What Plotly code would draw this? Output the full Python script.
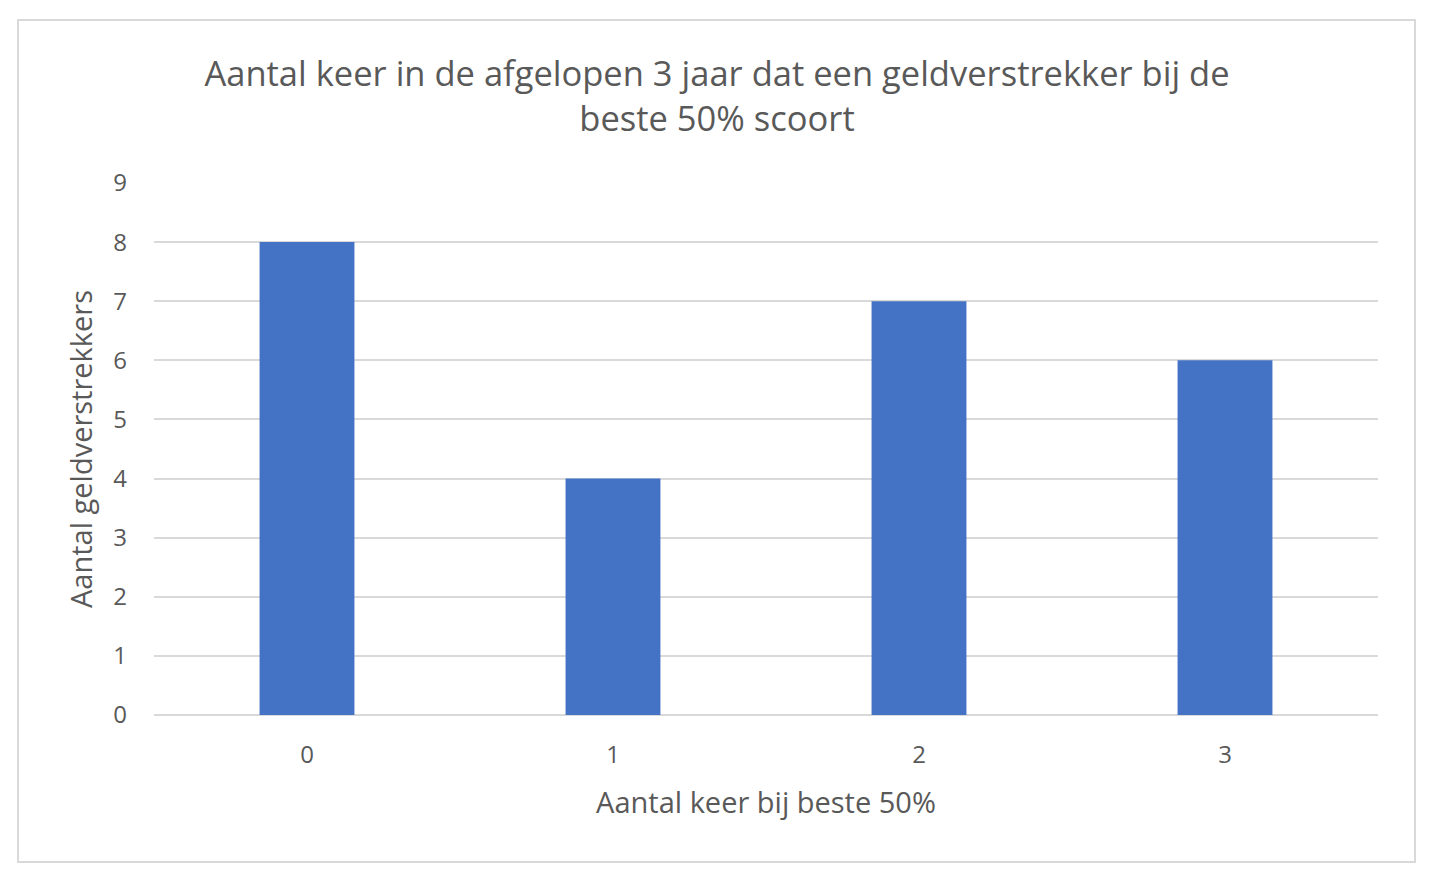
import plotly.graph_objects as go

categories = ['0', '1', '2', '3']
counts = [8, 4, 7, 6]
y_ticks = [0, 1, 2, 3, 4, 5, 6, 7, 8, 9]

title = 'Aantal keer in de afgelopen 3 jaar dat een geldverstrekker bij de<br>beste 50% scoort'
grey = '#595959'
font = 'Open Sans'

fig = go.Figure(go.Bar(x=categories, y=counts, marker_color='#4472C4',
                       marker_line_width=0))

W, H = 1440, 892
off = 8  # page body margin
l, r, t, b = 154 - off, 62 + off, 183 - off, 177 + off
pw, ph = W - l - r, H - t - b

# chart border (Excel style), in screen pixels -> paper coords
def px(x):
    return (x - off - l) / pw

def py(y):
    return (H - b - (y - off)) / ph

fig.add_shape(type='rect', xref='paper', yref='paper',
              x0=px(18), x1=px(1415), y0=py(862), y1=py(20),
              line=dict(color='#d9d9d9', width=2), layer='below')

fig.update_layout(
    width=W, height=H,
    margin=dict(l=l, r=r, t=t, b=b),
    paper_bgcolor='white', plot_bgcolor='white',
    bargap=0.69,
    showlegend=False,
    font=dict(family=font, color=grey),
    title=dict(text=title, x=(717 - off) / W, xanchor='center', y=1 - (86 - off) / H,
               yanchor='middle', yref='container',
               font=dict(size=34.5, color=grey, family=font)),
)
fig.update_xaxes(type='category', showgrid=False, showline=False, ticks='',
                 tickfont=dict(size=24, color=grey), ticklabelstandoff=23,
                 title=dict(text='Aantal keer bij beste 50%', font=dict(size=29, color=grey),
                            standoff=23))
fig.update_yaxes(range=[0, 9], tickvals=y_ticks, showgrid=True, gridcolor='#d9d9d9',
                 gridwidth=2, zeroline=True, zerolinecolor='#d9d9d9', zerolinewidth=2,
                 showline=False, ticks='', tickfont=dict(size=24, color=grey),
                 ticklabelstandoff=26,
                 title=dict(text='Aantal geldverstrekkers', font=dict(size=29, color=grey),
                            standoff=12))

fig.write_html('out.html')
